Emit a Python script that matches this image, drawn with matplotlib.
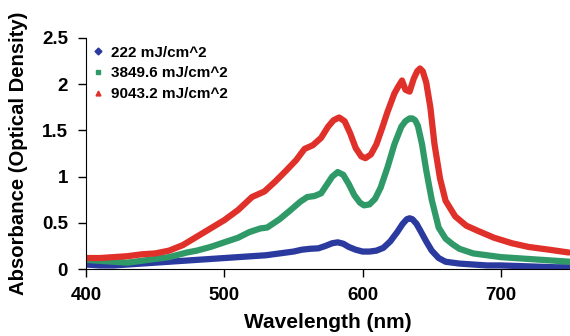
import numpy as np
import matplotlib.pyplot as plt

plt.rcParams['font.family'] = ['Liberation Sans', 'DejaVu Sans']
plt.rcParams['font.weight'] = 'bold'

# 222 mJ/cm^2
wl_blue = [400, 410, 420, 430, 440, 450, 460, 470, 480, 490, 500, 510, 520, 530,
           540, 550, 556, 562, 568, 573, 578, 582, 586, 590, 595, 600, 605, 610,
           615, 620, 625, 629, 632, 634, 636, 639, 642, 646, 650, 655, 660, 670,
           680, 690, 700, 720, 740, 750]
abs_blue = [0.05, 0.04, 0.04, 0.05, 0.06, 0.07, 0.08, 0.09, 0.1, 0.11, 0.12, 0.13,
            0.14, 0.15, 0.17, 0.19, 0.21, 0.22, 0.225, 0.25, 0.28, 0.29, 0.275,
            0.24, 0.21, 0.19, 0.19, 0.2, 0.23, 0.3, 0.4, 0.49, 0.54, 0.55, 0.54,
            0.49, 0.41, 0.3, 0.2, 0.12, 0.08, 0.06, 0.05, 0.04, 0.04, 0.03, 0.02,
            0.02]

# 3849.6 mJ/cm^2
wl_green = [400, 410, 420, 430, 440, 450, 460, 473, 480, 490, 500, 510, 518, 526,
            531, 540, 548, 555, 560, 565, 570, 574, 578, 582, 586, 590, 594, 598,
            601, 605, 609, 613, 618, 623, 628, 631, 634, 636, 638, 640, 643, 646,
            650, 655, 660, 665, 670, 680, 690, 700, 720, 740, 750]
abs_green = [0.1, 0.09, 0.08, 0.07, 0.09, 0.11, 0.13, 0.18, 0.2, 0.24, 0.29, 0.34,
             0.4, 0.44, 0.45, 0.54, 0.64, 0.73, 0.78, 0.79, 0.82, 0.91, 1.0, 1.05,
             1.02, 0.92, 0.8, 0.72, 0.69, 0.7, 0.76, 0.88, 1.1, 1.35, 1.54, 1.6,
             1.63, 1.63, 1.61, 1.55, 1.35, 1.07, 0.75, 0.45, 0.33, 0.27, 0.22, 0.17,
             0.15, 0.13, 0.11, 0.09, 0.08]

# 9043.2 mJ/cm^2
wl_red = [400, 410, 420, 430, 440, 450, 460, 470, 480, 490, 500, 510, 520, 529,
          537, 545, 552, 558, 564, 570, 575, 579, 583, 587, 591, 595, 599, 602,
          606, 610, 614, 618, 623, 626, 628.5, 631, 634, 637, 639.5, 641.5, 643.5,
          646, 649, 652, 656, 660, 667, 675, 684, 695, 708, 720, 735, 749]
abs_red = [0.12, 0.12, 0.13, 0.14, 0.16, 0.17, 0.2, 0.26, 0.35, 0.44, 0.53, 0.64,
           0.78, 0.84, 0.95, 1.07, 1.18, 1.3, 1.34, 1.42, 1.54, 1.61, 1.64, 1.6,
           1.47, 1.31, 1.22, 1.2, 1.24, 1.35, 1.52, 1.7, 1.9, 1.98, 2.04, 1.94,
           1.92, 2.06, 2.14, 2.17, 2.14, 2.02, 1.75, 1.35, 0.98, 0.74, 0.57, 0.47,
           0.41, 0.34, 0.28, 0.24, 0.21, 0.18]

labels = ['222 mJ/cm^2', '3849.6 mJ/cm^2', '9043.2 mJ/cm^2']
colors = ['#2b3a9e', '#2f9a68', '#e0302a']
markers = ['D', 's', '^']

fig = plt.figure(figsize=(5.7, 3.36), dpi=100)
ax = fig.add_axes([0.151, 0.199, 0.849, 0.688])

series = [(wl_blue, abs_blue), (wl_green, abs_green), (wl_red, abs_red)]
for (x, y), lab, c, m in zip(series, labels, colors, markers):
    ax.plot(x, y, color=c, lw=4.5, solid_joinstyle='round', solid_capstyle='round')
    # legend proxy with the marker only
    ax.plot([], [], ls='none', marker=m, ms=3.5, color=c, label=lab)

ax.set_xlim(400, 750)
ax.set_ylim(0, 2.5)
ax.set_xticks([400, 500, 600, 700])
ax.set_yticks([0, 0.5, 1, 1.5, 2, 2.5])
ax.set_yticklabels(['0', '0.5', '1', '1.5', '2', '2.5'])
ax.spines['top'].set_visible(False)
ax.spines['right'].set_visible(False)
ax.tick_params(labelsize=13.5, length=6, width=1)
ax.tick_params(axis='y', pad=7)
ax.tick_params(axis='x', pad=7)
for t in ax.get_xticklabels() + ax.get_yticklabels():
    t.set_fontweight('bold')
ax.set_xlabel('Wavelength (nm)', fontsize=15, fontweight='bold', labelpad=6)
ax.set_ylabel('Absorbance (Optical Density)', fontsize=14.6, fontweight='bold',
              labelpad=10)

ax.legend(loc='upper left', frameon=False, handlelength=0.6,
          handletextpad=0.5, labelspacing=0.45, borderaxespad=0.1,
          bbox_to_anchor=(0.0, 1.0),
          prop={'weight': 'bold', 'size': 11})

plt.savefig('out.png', dpi=100)
